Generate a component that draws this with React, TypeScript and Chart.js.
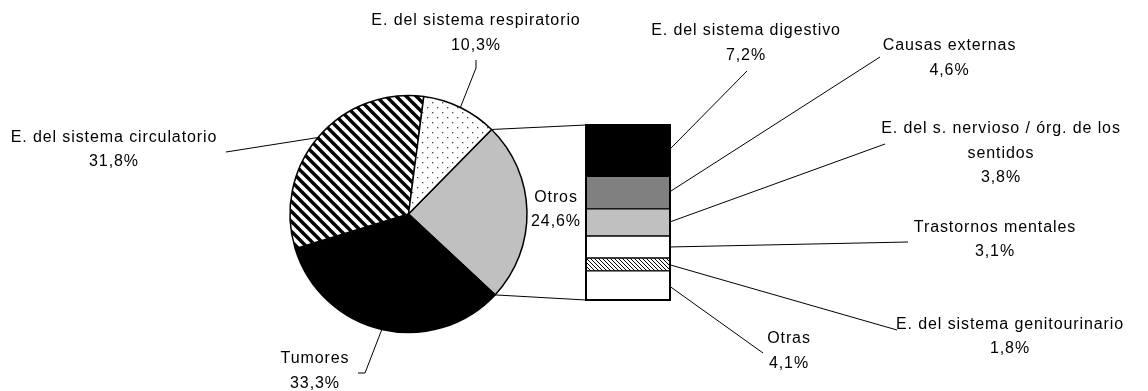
import React, { useEffect, useRef } from 'react';
import { Chart, registerables } from 'chart.js';

Chart.register(...registerables);

// ---- Data ----
const pieLabels = ['Otros', 'Tumores', 'E. del sistema circulatorio', 'E. del sistema respiratorio'];
const pieValues = [24.6, 33.3, 31.8, 10.3];

const barLabels = [
  'Otras',
  'E. del sistema genitourinario',
  'Trastornos mentales',
  'E. del s. nervioso / órg. de los\nsentidos',
  'Causas externas',
  'E. del sistema digestivo',
];
const barValues = [4.1, 1.8, 3.1, 3.8, 4.6, 7.2];

// ---- Layout (label anchor positions & leader bends) ----
const W = 1148;
const H = 391;
const PIE_CX = 408.5;
const PIE_CY = 214;
const PIE_R = 118.5;
const BAR_BOX = { left: 586, right: 670, top: 125, bottom: 300 };
const LINE_H = 24.5;

const pieLabelLayout = [
  { x: 556, y: 197.5, leader: [] as number[][] },
  { x: 315, y: 359, leader: [[358, 373], [365, 373]] },
  { x: 114, y: 137.5, leader: [[226, 152]] },
  { x: 476, y: 21, leader: [[476, 60], [476, 68]] },
];
const barLabelLayout = [
  { x: 789, y: 339, leader: [[763, 353]] },
  { x: 1010, y: 324.5, leader: [[897, 330]] },
  { x: 995, y: 227.5, leader: [[908, 242]] },
  { x: 1001, y: 129, leader: [[885, 144]] },
  { x: 949.5, y: 46, leader: [[880, 57]] },
  { x: 746, y: 31, leader: [[747, 71]] },
];

const FONT = '16px "Liberation Sans", Arial, sans-serif';

const fmt = (v: number) => v.toFixed(1).replace('.', ',') + '%';

function makeTile(size: number, draw: (c: CanvasRenderingContext2D) => void) {
  const cv = document.createElement('canvas');
  cv.width = size;
  cv.height = size;
  const c = cv.getContext('2d')!;
  c.fillStyle = '#fff';
  c.fillRect(0, 0, size, size);
  draw(c);
  return c.createPattern(cv, 'repeat')!;
}

function stripes(size: number, lw: number) {
  return makeTile(size, (c) => {
    c.strokeStyle = '#000';
    c.lineWidth = lw;
    for (const o of [-size, 0, size]) {
      c.beginPath();
      c.moveTo(o - 2, -2);
      c.lineTo(o + size + 2, size + 2);
      c.stroke();
    }
  });
}

function dots() {
  return makeTile(10, (c) => {
    c.fillStyle = '#444';
    c.fillRect(2, 2, 1.3, 1.3);
    c.fillRect(7, 7, 1.3, 1.3);
  });
}

function drawText(ctx: CanvasRenderingContext2D, lines: string[], x: number, y: number) {
  ctx.save();
  ctx.font = FONT;
  (ctx as any).letterSpacing = '0.9px';
  ctx.fillStyle = '#000';
  ctx.textAlign = 'center';
  ctx.textBaseline = 'middle';
  lines.forEach((l, i) => ctx.fillText(l, x, y + i * LINE_H));
  ctx.restore();
}

export default function App() {
  const pieRef = useRef<HTMLCanvasElement>(null);
  const barRef = useRef<HTMLCanvasElement>(null);

  useEffect(() => {
    document.body.style.margin = '0';
    document.body.style.background = '#fff';

    const pieFills = ['#c0c0c0', '#000000', stripes(10, 3.4), dots()];
    const barFills = ['#ffffff', stripes(4, 1), '#ffffff', '#c0c0c0', '#808080', '#000000'];

    const pieChart = new Chart(pieRef.current!, {
      type: 'pie',
      data: {
        labels: pieLabels,
        datasets: [
          {
            data: pieValues,
            backgroundColor: pieFills as any,
            borderColor: '#000',
            borderWidth: 1.5,
          },
        ],
      },
      options: {
        animation: false,
        responsive: false,
        events: [],
        rotation: 44.5,
        radius: PIE_R,
        layout: {
          padding: {
            left: 0,
            right: W - 2 * PIE_CX,
            top: 2 * PIE_CY - H,
            bottom: 0,
          },
        },
        plugins: { legend: { display: false }, tooltip: { enabled: false } },
      },
    });

    const total = barValues.reduce((a, b) => a + b, 0);

    const overlay = {
      id: 'overlay',
      beforeDatasetsDraw(chart: any) {
        const ctx = chart.ctx as CanvasRenderingContext2D;
        const arcs = pieChart.getDatasetMeta(0).data as any[];
        const bars = chart.data.datasets.map((_: any, i: number) => chart.getDatasetMeta(i).data[0]);
        const area = chart.chartArea;
        ctx.save();
        ctx.strokeStyle = '#000';
        ctx.lineWidth = 1;
        // connector lines pie -> bar
        const a0 = arcs[0];
        const topY = chart.scales.y.getPixelForValue(total);
        const botY = chart.scales.y.getPixelForValue(0);
        ctx.beginPath();
        ctx.moveTo(a0.x + a0.outerRadius * Math.cos(a0.startAngle), a0.y + a0.outerRadius * Math.sin(a0.startAngle));
        ctx.lineTo(area.left, topY);
        ctx.moveTo(a0.x + a0.outerRadius * Math.cos(a0.endAngle), a0.y + a0.outerRadius * Math.sin(a0.endAngle));
        ctx.lineTo(area.left, botY);
        ctx.stroke();
        // pie leaders
        arcs.forEach((a, i) => {
          const lay = pieLabelLayout[i];
          if (!lay.leader.length) return;
          const mid = (a.startAngle + a.endAngle) / 2;
          ctx.beginPath();
          ctx.moveTo(lay.leader[0][0], lay.leader[0][1]);
          for (let k = 1; k < lay.leader.length; k++) ctx.lineTo(lay.leader[k][0], lay.leader[k][1]);
          ctx.lineTo(a.x + a.outerRadius * Math.cos(mid), a.y + a.outerRadius * Math.sin(mid));
          ctx.stroke();
        });
        // bar leaders
        bars.forEach((b: any, i: number) => {
          const lay = barLabelLayout[i];
          ctx.beginPath();
          ctx.moveTo(lay.leader[0][0], lay.leader[0][1]);
          ctx.lineTo(area.right - 1.5, (b.y + b.base) / 2);
          ctx.stroke();
        });
        ctx.restore();
      },
      afterDatasetsDraw(chart: any) {
        const ctx = chart.ctx as CanvasRenderingContext2D;
        const area = chart.chartArea;
        const topY = chart.scales.y.getPixelForValue(total);
        const botY = chart.scales.y.getPixelForValue(0);
        ctx.save();
        ctx.strokeStyle = '#000';
        ctx.lineWidth = 2;
        ctx.strokeRect(area.left, topY, area.right - area.left, botY - topY);
        ctx.restore();

        pieLabels.forEach((l, i) => {
          const lay = pieLabelLayout[i];
          drawText(ctx, [...l.split('\n'), fmt(pieValues[i])], lay.x, lay.y);
        });
        barLabels.forEach((l, i) => {
          const lay = barLabelLayout[i];
          drawText(ctx, [...l.split('\n'), fmt(barValues[i])], lay.x, lay.y);
        });
      },
    };

    const barChart = new Chart(barRef.current!, {
      type: 'bar',
      data: {
        labels: [''],
        datasets: barValues.map((v, i) => ({
          label: barLabels[i],
          data: [v],
          backgroundColor: barFills[i] as any,
          borderColor: '#000',
          borderWidth: 1,
          borderSkipped: false,
          barPercentage: 1,
          categoryPercentage: 1,
        })),
      },
      options: {
        animation: false,
        responsive: false,
        events: [],
        layout: {
          padding: {
            left: BAR_BOX.left,
            right: W - BAR_BOX.right,
            top: BAR_BOX.top,
            bottom: H - BAR_BOX.bottom,
          },
        },
        scales: {
          x: { display: false, stacked: true },
          y: { display: false, stacked: true, min: 0, max: total },
        },
        plugins: { legend: { display: false }, tooltip: { enabled: false } },
      },
      plugins: [overlay],
    });

    return () => {
      barChart.destroy();
      pieChart.destroy();
    };
  }, []);

  return (
    <div style={{ position: 'relative', width: W, height: H, background: '#fff' }}>
      <canvas ref={pieRef} width={W} height={H} style={{ position: 'absolute', left: 0, top: 0 }} />
      <canvas ref={barRef} width={W} height={H} style={{ position: 'absolute', left: 0, top: 0 }} />
    </div>
  );
}
